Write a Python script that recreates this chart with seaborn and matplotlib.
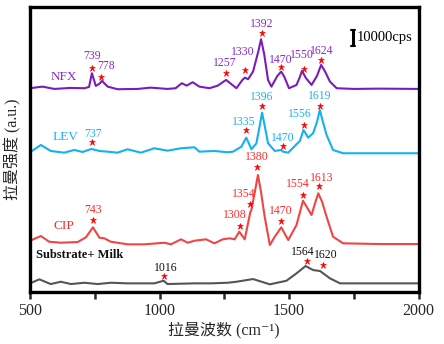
import numpy as np
import pandas as pd
import matplotlib
matplotlib.use("Agg")
import matplotlib.pyplot as plt
import seaborn as sns

# ---------------- data (wavenumber cm-1, stacked intensity a.u.) ----------------
nfx_wn = [500, 548, 594, 657, 710, 728, 739, 754, 767, 778, 800, 838, 916, 966, 1031, 1062, 1086,
          1105, 1128, 1154, 1193, 1225, 1257, 1297, 1320, 1330, 1342, 1361, 1381, 1392, 1404,
          1419, 1432, 1455, 1470, 1482, 1500, 1529, 1542, 1550, 1565, 1587, 1608, 1624, 1640,
          1658, 1684, 1750, 1850, 2000]
nfx_int = [203.7, 205.3, 203, 204, 203.7, 205, 218.7, 206, 208, 211, 205.3, 202.7, 203, 204.3, 203,
           203.7, 208.7, 206.3, 209.7, 205.3, 203.7, 206.3, 212, 203.7, 212, 214.3, 212.7, 220.3,
           240, 252.7, 238, 212, 205.3, 216, 220.3, 215, 203.7, 207, 215, 221, 214, 207, 216,
           227, 220, 210.3, 203.7, 203, 203.3, 203]

lev_wn = [500, 542, 580, 632, 671, 703, 737, 768, 800, 838, 877, 928, 980, 1031, 1083, 1135, 1154,
          1212, 1263, 1284, 1316, 1335, 1355, 1374, 1386, 1396, 1407, 1419, 1445, 1470, 1477, 1497,
          1516, 1542, 1556, 1574, 1593, 1608, 1619, 1631, 1645, 1670, 1709, 1850, 2000]
lev_int = [139.7, 147, 141, 139.3, 142, 140, 143, 141, 140.3, 139.3, 142.7, 139.3, 143.7, 141.3,
           143.7, 144.7, 140.3, 141, 139.7, 140.3, 145.3, 154.3, 142.7, 148.7, 165, 179.3, 165,
           148.7, 141, 142, 140.3, 139.3, 144.3, 151, 162, 154.3, 158.7, 170, 182, 170, 157,
           142, 138.7, 138.7, 138.7]

cip_wn = [500, 542, 574, 619, 684, 716, 743, 768, 787, 812, 877, 941, 1019, 1044, 1083, 1109, 1135,
          1180, 1212, 1244, 1271, 1290, 1308, 1329, 1351, 1354, 1368, 1380, 1392, 1406, 1426, 1445,
          1470, 1497, 1529, 1554, 1587, 1602, 1613, 1628, 1645, 1670, 1709, 1850, 2000]
cip_int = [51.3, 56, 50.3, 49.3, 50, 54.7, 64.7, 54.3, 53.7, 50.3, 47.7, 47.7, 49.3, 47.7, 52.7,
           49.3, 51.3, 52.7, 48.7, 52.7, 53.7, 52.7, 60.3, 52.7, 80.3, 81.3, 100, 117, 100, 75.3,
           47, 55.3, 64.7, 52, 67, 91.3, 77, 90, 98.7, 90, 75.3, 55.3, 48.7, 48, 48]

milk_wn = [500, 536, 580, 619, 658, 710, 761, 812, 877, 980, 1016, 1031, 1135, 1199, 1263, 1297,
           1361, 1426, 1490, 1529, 1564, 1593, 1620, 1658, 1697, 1850, 2000]
milk_int = [8.7, 12.7, 8, 10.3, 8, 9.3, 8, 9.3, 8.7, 8.7, 11.3, 8, 8.7, 8.7, 9.3, 10.3, 13, 7.7,
            11.3, 18.7, 26, 22, 21, 13.7, 8.7, 8.7, 8.7]

series_names = ["NFX", "LEV", "CIP", "Substrate+ Milk"]
colors = {"NFX": "#7A1DB8", "LEV": "#15B0F0", "CIP": "#F04545", "Substrate+ Milk": "#555555"}
label_colors = {"NFX": "#8A28C8", "LEV": "#1EB0F0", "CIP": "#FF2A2A", "Substrate+ Milk": "#111111"}

# peak labels: (text, star_wn, star_y, text_wn, text_y)
peaks = {
    "NFX": [("739", 739, 224, 738, 236), ("778", 776, 215, 792, 226),
            ("1257", 1256, 219, 1252, 229), ("1330", 1329, 222, 1320, 240),
            ("1392", 1394, 259, 1394, 268), ("1470", 1468, 225, 1468, 232),
            ("1550", 1558, 223, 1548, 237), ("1624", 1622, 232, 1626, 241)],
    "LEV": [("737", 738, 150, 742, 158), ("1335", 1333, 162, 1325, 170),
            ("1396", 1396, 186, 1396, 195), ("1470", 1477, 146, 1477, 154),
            ("1556", 1558, 167, 1542, 178), ("1619", 1619, 186, 1619, 196)],
    "CIP": [("743", 742, 72, 744, 82), ("1308", 1310, 66, 1290, 77),
            ("1354", 1348, 88, 1325, 98), ("1380", 1377, 125, 1377, 135),
            ("1470", 1468, 71, 1468, 81), ("1554", 1555, 97, 1533, 108),
            ("1613", 1615, 106, 1626, 114)],
    "Substrate+ Milk": [("1016", 1019, 16, 1025, 24), ("1564", 1568, 31, 1552, 40),
                        ("1620", 1632, 27, 1642, 37)],
}
name_pos = {"NFX": (632, 215), "LEV": (638, 155), "CIP": (632, 66)}

# ---------------- build table ----------------
frames = []
for name, wn, it in [("NFX", nfx_wn, nfx_int), ("LEV", lev_wn, lev_int),
                     ("CIP", cip_wn, cip_int), ("Substrate+ Milk", milk_wn, milk_int)]:
    frames.append(pd.DataFrame({"wn": wn, "I": it, "sample": name}))
df = pd.concat(frames, ignore_index=True)

sns.set_style("white")
plt.rcParams["font.family"] = ["Liberation Serif", "Noto Sans CJK SC", "DejaVu Serif"]

fig = plt.figure(figsize=(4.44, 3.44), dpi=100)
ax = fig.add_axes([0.0676, 0.151, 0.875, 0.829])

sns.lineplot(data=df, x="wn", y="I", hue="sample", palette=colors, hue_order=series_names,
             sort=False, linewidth=1.5, legend=False, ax=ax, estimator=None)

for name in series_names:
    for txt, sx, sy, tx, ty in peaks[name]:
        ax.plot([sx], [sy], marker="*", color="#FF0000", markersize=4.5, markeredgewidth=0.4)
        ax.text(tx, ty, txt, color=label_colors[name], fontsize=8.5, ha="center", va="center")
for name, (x, y) in name_pos.items():
    ax.text(x, y, name, color=label_colors[name], fontsize=9.5, ha="center", va="center")
ax.text(522, 37, "Substrate+ Milk", color="#111111", fontsize=9, fontweight="bold",
        ha="left", va="center")

# scale bar (10000 cps)
ax.plot([1747, 1747], [246, 262], color="black", lw=2.2, solid_capstyle="butt")
ax.plot([1741, 1753], [262, 262], color="black", lw=1.5)
ax.plot([1741, 1753], [246, 246], color="black", lw=1.5)
ax.text(1763, 254, "10000cps", fontsize=10.5, ha="left", va="center", color="black")

ax.set_xlim(500, 2000)
ax.set_ylim(0, 285)
ax.set_yticks([])
ax.set_xticks([500, 1000, 1500, 2000])
ax.set_xticks([750, 1250, 1750], minor=True)
ax.tick_params(axis="x", which="both", direction="out", length=5, width=1.8, labelsize=11.5,
               bottom=True, pad=3)
for s in ax.spines.values():
    s.set_linewidth(2.4)
    s.set_color("black")
ax.set_xlabel("拉曼波数 (cm\u207b\u00b9)", fontsize=11.5, labelpad=2)
ax.set_ylabel("拉曼强度 (a.u.)", fontsize=11.5, labelpad=6)

fig.savefig("out.png", dpi=100)
